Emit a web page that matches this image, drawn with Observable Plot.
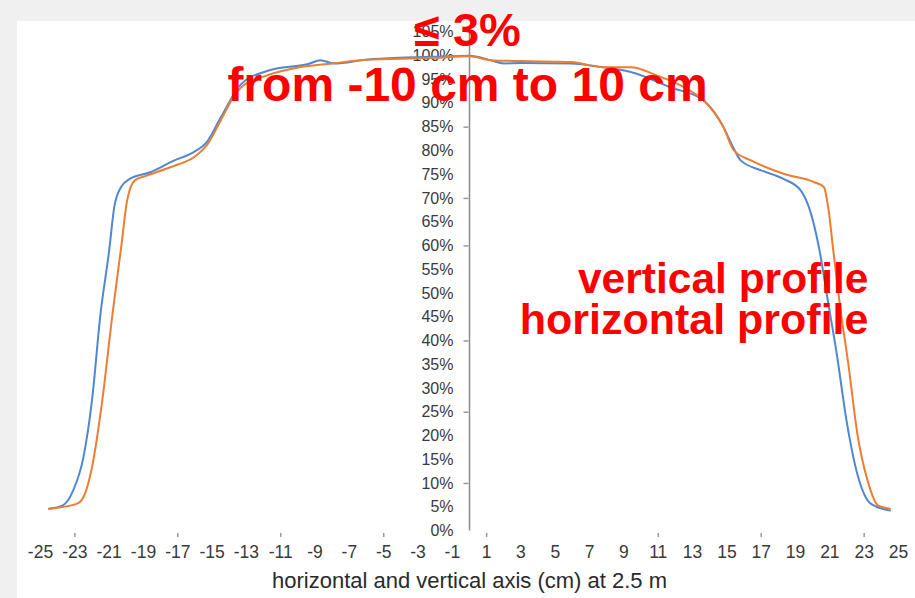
<!DOCTYPE html>
<html>
<head>
<meta charset="utf-8">
<script src="https://cdn.jsdelivr.net/npm/d3@7"></script>
<script src="https://cdn.jsdelivr.net/npm/@observablehq/plot@0.6"></script>
<style>
  html, body { margin: 0; padding: 0; }
  body { width: 915px; height: 598px; background: #f0f0f0; overflow: hidden; position: relative; font-family: "Liberation Sans", Arial, sans-serif; }
  #chart { position: absolute; left: 17px; top: 21px; width: 898px; height: 577px; background: #ffffff; }
  #chart svg { overflow: visible; }
</style>
</head>
<body>
<div id="chart"></div>
<script>
// Vertical profile (blue)
const verticalX = [-24.5,-23.7,-23.1,-22.5,-22.0,-21.5,-21.0,-20.7,-20.3,-19.8,-18.6,-17.2,-16.1,-15.3,-14.5,-13.3,-11.8,-9.3,-8.7,-7.9,-6.0,-4.0,-2.0,0.0,1.2,2.0,3.0,5.9,7.8,9.4,11.7,13.65,14.8,15.4,15.8,17.0,18.3,19.3,19.9,20.4,20.85,21.4,22.0,22.6,23.4,24.5];
const verticalY = [4.7,5.4,8.5,15.5,27.5,45.8,59.0,68.2,72.4,74.1,75.5,78.0,79.7,81.9,87.0,94.1,96.8,98.4,99.1,98.4,99.2,99.6,99.8,100.0,99.1,98.4,98.5,98.4,97.6,96.6,93.4,90.6,85.0,80.5,78.0,75.9,74.1,71.7,66.8,59.0,49.2,37.3,22.6,12.0,5.7,4.3];
// Horizontal profile (orange)
const horizontalX = [-24.5,-22.9,-22.5,-22.0,-21.4,-20.8,-20.3,-19.95,-19.5,-18.8,-17.4,-15.9,-15.3,-14.5,-13.7,-13.3,-11.8,-9.9,-8.0,-6.0,-4.0,-2.1,0.0,1.2,3.0,5.9,7.8,9.4,10.9,12.5,13.65,14.8,15.4,16.4,18.3,20.1,20.65,20.9,21.2,21.6,22.1,22.6,23.2,23.8,24.5];
const horizontalY = [4.7,5.7,7.1,13.4,27.5,45.8,59.7,69.6,73.8,74.8,76.6,79.1,81.2,86.4,91.7,93.4,95.9,97.6,98.4,99.2,99.4,99.6,99.9,99.1,98.9,98.7,97.6,97.6,95.9,93.4,90.6,85.0,80.1,78.0,75.2,73.4,72.4,68.2,59.0,47.1,34.5,20.5,10.6,5.4,4.7];

const xTickLabels = [-25,-23,-21,-19,-17,-15,-13,-11,-9,-7,-5,-3,-1,1,3,5,7,9,11,13,15,17,19,21,23,25];
const yTickLabels = [0,5,10,15,20,25,30,35,40,45,50,55,60,65,70,75,80,85,90,95,100,105];
const xTickMarks = [-23,-17,-11,-5,1,11,17,23];
const yTickMarks = [10,25,40,60,70,85];

const axisTitle = "horizontal and vertical axis (cm) at 2.5 m";
const note1 = "≤ 3%";
const note2 = "from -10 cm to 10 cm";
const seriesNames = ["vertical profile", "horizontal profile"];

const data = [
  ...verticalX.map((x, i) => ({series: "vertical", x, y: verticalY[i]})),
  ...horizontalX.map((x, i) => ({series: "horizontal", x, y: horizontalY[i]}))
];

const ySymbol = {draw(ctx) { ctx.moveTo(-6, 0); ctx.lineTo(-1, 0); }};
const xSymbol = {draw(ctx) { ctx.moveTo(0, 2); ctx.lineTo(0, 6); }};

const chart = Plot.plot({
  width: 898,
  height: 577,
  marginLeft: 23,
  marginRight: 17,
  marginTop: 10.6,
  marginBottom: 67.5,
  x: {domain: [-25, 25], axis: null},
  y: {domain: [0, 105], axis: null},
  color: {domain: ["vertical", "horizontal"], range: ["#4f88d0", "#ed7d31"]},
  style: {background: "white", overflow: "visible", fontFamily: "'Liberation Sans', Arial, sans-serif"},
  marks: [
    Plot.ruleX([0], {stroke: "#8c8c8c", strokeWidth: 1.5}),
    Plot.dot(yTickMarks, {x: () => 0, y: d => d, symbol: ySymbol, stroke: "#999", fill: "none", r: 3}),
    Plot.dot(xTickMarks, {x: d => d, y: () => 0, symbol: xSymbol, stroke: "#999", fill: "none", r: 3}),
    Plot.text(yTickLabels, {x: () => 0, y: d => d, text: d => d + "%", textAnchor: "end", dx: -16, fontSize: 16, fill: "#3a3a3a"}),
    Plot.text(xTickLabels, {x: d => d, y: () => 0, text: d => String(d), dy: 21, fontSize: 17.5, fill: "#3a3a3a"}),
    Plot.text([axisTitle], {frameAnchor: "bottom", text: d => d, lineAnchor: "bottom", dy: 56.5, fontSize: 22, fill: "#2a2a2a"}),
    Plot.line(data, {x: "x", y: "y", z: "series", stroke: "series", strokeWidth: 2, curve: "monotone-x"}),
    Plot.text([note1], {frameAnchor: "top", text: d => d, lineAnchor: "bottom", dx: -2, dy: 13.4, fontSize: 47, fontWeight: "bold", fill: "#ff0000"}),
    Plot.text([note2], {frameAnchor: "top", text: d => d, lineAnchor: "bottom", dx: -2, dy: 68.4, fontSize: 48, fontWeight: "bold", fill: "#ff0000"}),
    Plot.text([seriesNames[0]], {frameAnchor: "top-right", text: d => d, textAnchor: "end", lineAnchor: "bottom", dx: -30, dy: 260.4, fontSize: 42.5, fontWeight: "bold", fill: "#ff0000"}),
    Plot.text([seriesNames[1]], {frameAnchor: "top-right", text: d => d, textAnchor: "end", lineAnchor: "bottom", dx: -30, dy: 301.4, fontSize: 43, fontWeight: "bold", fill: "#ff0000"})
  ]
});
document.getElementById("chart").appendChild(chart);
</script>
</body>
</html>
